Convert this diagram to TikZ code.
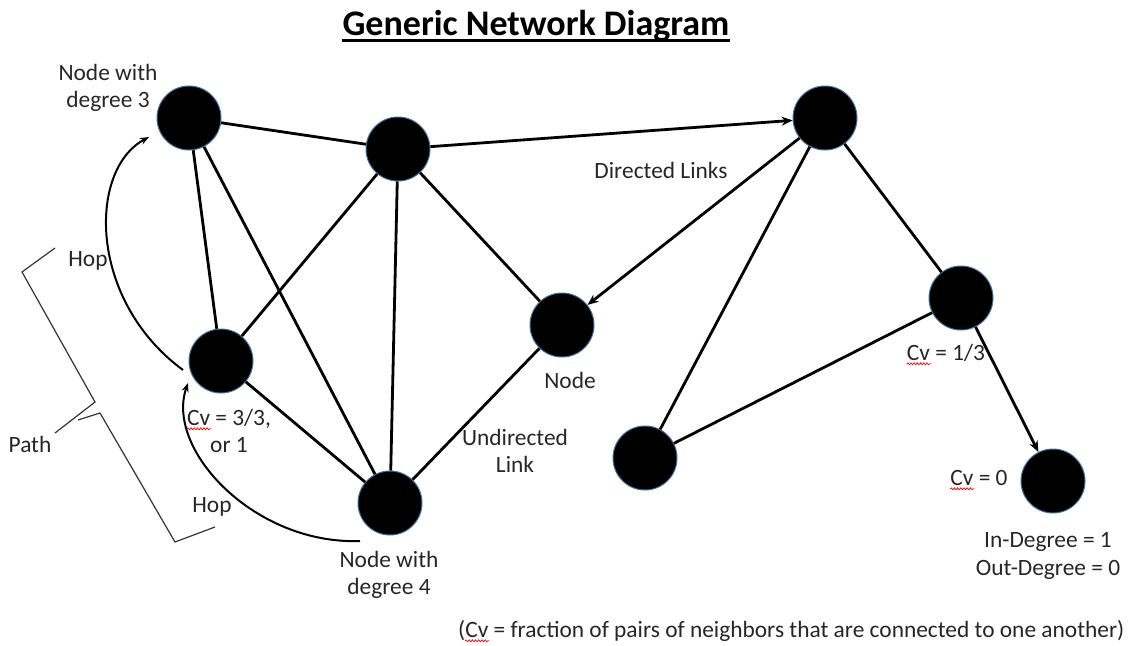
\documentclass[tikz,border=0pt]{standalone}
\usepackage{fontspec}
\setmainfont{Carlito}
\usetikzlibrary{arrows.meta,decorations.pathmorphing}
\definecolor{vblue}{RGB}{65,113,156}
\definecolor{txt}{RGB}{38,38,38}
\begin{document}
\begin{tikzpicture}[x=1pt,y=-1pt,
  vtx/.style={circle,fill=black,draw=vblue,line width=1pt,minimum size=64pt,inner sep=0pt},
  edge/.style={line width=2.8pt},
  dir/.style={edge,-{Stealth[length=11pt,width=9pt]}},
  hop/.style={line width=2pt,-{Stealth[length=9pt,width=7pt]}},
  lbl/.style={font=\fontsize{23.4}{28}\selectfont,text=txt,inner sep=0pt,anchor=base},
  brace/.style={line width=1.2pt,draw=black!80},
  squig/.style={red,line width=0.7pt,decorate,decoration={snake,amplitude=1pt,segment length=3.2pt}}]
\useasboundingbox (0,0) rectangle (1129,645);

% title
\node[font=\fontsize{36}{42}\selectfont\bfseries,inner sep=0pt,anchor=base] (title) at (536,35) {Generic Network Diagram};
\draw[line width=2.2pt] ([yshift=-5.5pt]title.base west) -- ([yshift=-5.5pt]title.base east);

% vertices
\node[vtx] (A) at (189,118) {};
\node[vtx] (B) at (398,149) {};
\node[vtx] (C) at (825,118) {};
\node[vtx] (D) at (221,361) {};
\node[vtx] (E) at (562,325) {};
\node[vtx] (F) at (961,298) {};
\node[vtx] (G) at (645,458) {};
\node[vtx] (H) at (390,503) {};
\node[vtx] (I) at (1053,481) {};

% undirected links
\draw[edge] (A) -- (B);
\draw[edge] (A) -- (D);
\draw[edge] (A) -- (H);
\draw[edge] (B) -- (D);
\draw[edge] (B) -- (H);
\draw[edge] (B) -- (E);
\draw[edge] (D) -- (H);
\draw[edge] (E) -- (H);
\draw[edge] (C) -- (G);
\draw[edge] (C) -- (F);
\draw[edge] (F) -- (G);
% directed links
\draw[dir] (B) -- (C);
\draw[dir] (C) -- (E);
\draw[dir] (F) -- (I);

% hops
\coordinate (h1s) at (183,370);
\coordinate (h1e) at (149,137);
\draw[hop] (h1s) .. controls (88,300) and (88,170) .. (h1e);
\coordinate (h2s) at (360,541);
\coordinate (h2e) at (188,383);
\draw[hop] (h2s) .. controls (255,545) and (165,450) .. (h2e);

% path brace
\draw[brace] (55,248) -- (22,272) -- (95,402) -- (55,433);
\draw[brace] (78,420) -- (100,413) -- (175,542) -- (215,527);

% labels
\node[lbl] (la1) at (108,80) {Node with};
\node[lbl] (la2) at (108,107) {degree 3};
\node[lbl] (hop1) at (88,266) {Hop};
\node[lbl] (path) at (30,452) {Path};
\node[lbl] (ld1) at (229,425) {Cv = 3/3,};
\node[lbl] (ld2) at (229,452) {or 1};
\node[lbl] (hop2) at (212,512) {Hop};
\node[lbl] (lh1) at (389,567) {Node with};
\node[lbl] (lh2) at (389,594) {degree 4};
\node[lbl] (le) at (570,388) {Node};
\node[lbl] (ldir) at (661,178) {Directed Links};
\node[lbl] (lu1) at (515,445) {Undirected};
\node[lbl] (lu2) at (515,472) {Link};
\node[lbl] (lf) at (946,360) {Cv = 1/3};
\node[lbl] (li) at (979,485) {Cv = 0};
\node[lbl] (lin) at (1048,547) {In-Degree = 1};
\node[lbl] (lout) at (1048,575) {Out-Degree = 0};
\node[lbl,anchor=base west] (note) at (458,637) {(Cv = fraction of pairs of neighbors that are connected to one another)};

% spell-check squiggles under "Cv"
\draw[squig] ([yshift=-3.8pt]ld1.base west) -- ++(24,0);
\draw[squig] ([yshift=-3.8pt]lf.base west) -- ++(24,0);
\draw[squig] ([yshift=-3.8pt]li.base west) -- ++(24,0);
\draw[squig] ([shift={(7pt,-3.8pt)}]note.base west) -- ++(24,0);
\end{tikzpicture}
\end{document}
